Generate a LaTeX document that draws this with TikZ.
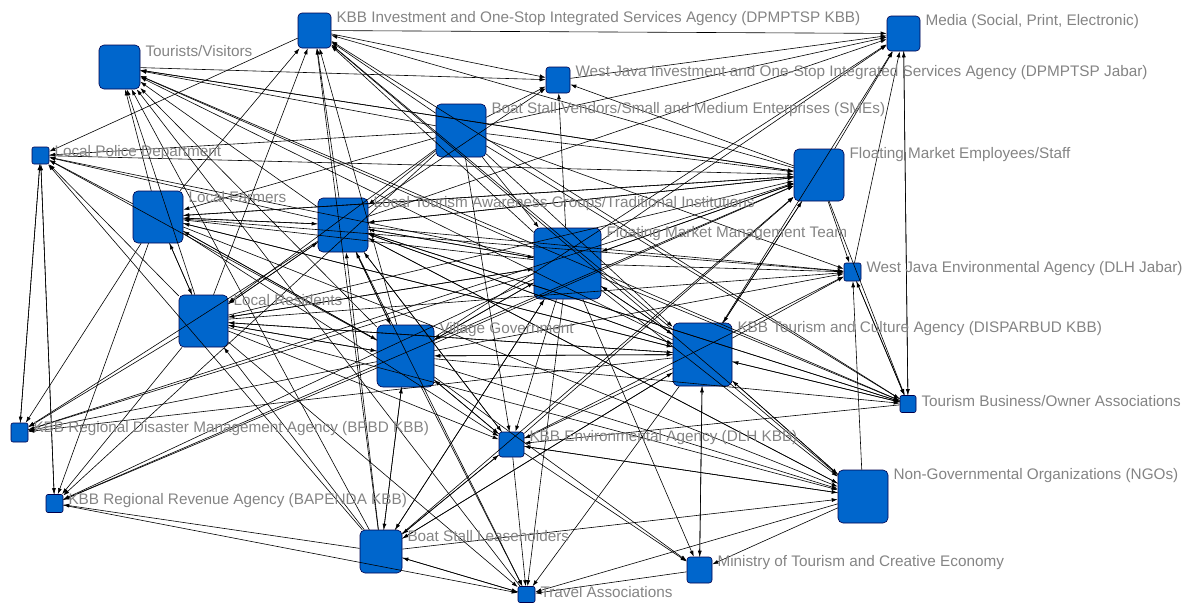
\documentclass[tikz,border=0pt]{standalone}
\usepackage{fontspec}
\setmainfont{Liberation Sans}
\usetikzlibrary{arrows.meta}

\definecolor{actorblue}{RGB}{0,102,204}
\definecolor{tagrey}{RGB}{132,132,132}

\tikzset{
  actor/.style={draw=black!70!blue, fill=actorblue, line width=0.6pt, rounded corners=#1, inner sep=0pt},
  actor/.default=4pt,
  tag/.style={anchor=west, text=tagrey, inner sep=0pt, font=\fontsize{15.3}{17}\selectfont},
  link/.style={line width=0.6pt, -{Latex[length=6pt,width=4pt]}},
}

\begin{document}
\begin{tikzpicture}[x=1pt, y=-1pt]
    \useasboundingbox (0,0) rectangle (1192,606);

    % actors
    \node[actor, minimum width=33, minimum height=35] (inv) at (314.5,30.5) {};
    \node[actor, minimum width=33, minimum height=35] (media) at (903.5,33.5) {};
    \node[actor=5pt, minimum width=41, minimum height=44] (tour) at (119.5,67) {};
    \node[actor=3pt, minimum width=24, minimum height=26] (wjinv) at (558,80) {};
    \node[actor=5pt, minimum width=50, minimum height=53] (vend) at (461,130.5) {};
    \node[actor=2pt, minimum width=17, minimum height=17] (police) at (40.5,155.5) {};
    \node[actor=5pt, minimum width=50, minimum height=52] (staff) at (819,175) {};
    \node[actor=5pt, minimum width=50, minimum height=52] (farm) at (158,217) {};
    \node[actor=5pt, minimum width=50, minimum height=54] (pokdar) at (343,225) {};
    \node[actor=6pt, minimum width=67, minimum height=71] (mgmt) at (567.5,263.5) {};
    \node[actor=2pt, minimum width=17, minimum height=18] (dlhj) at (852.5,272) {};
    \node[actor=5pt, minimum width=49, minimum height=52] (resid) at (203.5,321) {};
    \node[actor=6pt, minimum width=57, minimum height=62] (village) at (405.5,356) {};
    \node[actor=6pt, minimum width=59, minimum height=63] (dispar) at (702.5,354.5) {};
    \node[actor=2pt, minimum width=16, minimum height=17] (assoc) at (908,404) {};
    \node[actor=2pt, minimum width=17, minimum height=19] (bpbd) at (19.5,432.5) {};
    \node[actor=3pt, minimum width=25, minimum height=25] (dlhk) at (511.5,444.5) {};
    \node[actor=5pt, minimum width=50, minimum height=53] (ngo) at (863,496.5) {};
    \node[actor=2pt, minimum width=17, minimum height=18] (bapenda) at (54.5,503.5) {};
    \node[actor=5pt, minimum width=42, minimum height=43] (lease) at (381,551.5) {};
    \node[actor=3pt, minimum width=25, minimum height=26] (minis) at (699.5,570) {};
    \node[actor=2pt, minimum width=17, minimum height=16] (travel) at (526.5,594.5) {};

    % ties (source/target)
    \foreach \s/\t in {
        farm/tour, pokdar/tour, resid/tour, village/tour, mgmt/tour, vend/tour, staff/tour, dispar/tour, lease/tour, travel/tour, assoc/tour,
        vend/inv, pokdar/inv, village/inv, mgmt/inv, dispar/inv, staff/inv, farm/inv, resid/inv, lease/inv, ngo/inv, assoc/inv, inv/police,
        wjinv/media, vend/media, staff/media, mgmt/media, dispar/media, dlhj/media, assoc/media, pokdar/media, inv/media, village/media,
        vend/wjinv, inv/wjinv, pokdar/wjinv, tour/wjinv, mgmt/wjinv, staff/wjinv,
        vend/staff, farm/staff, pokdar/staff, mgmt/staff, resid/staff, village/staff, tour/staff, police/staff, dispar/staff, lease/staff, dlhk/staff, bpbd/staff, bapenda/staff,
        pokdar/farm, mgmt/farm, village/farm, resid/farm, vend/farm, staff/farm, dispar/farm,
        mgmt/pokdar, village/pokdar, resid/pokdar, farm/pokdar, vend/pokdar, staff/pokdar, dispar/pokdar, dlhk/pokdar, lease/pokdar, ngo/pokdar, assoc/pokdar,
        village/mgmt, dispar/mgmt, pokdar/mgmt, vend/mgmt, resid/mgmt, lease/mgmt, staff/mgmt,
        mgmt/dlhj, pokdar/dlhj, vend/dlhj, village/dlhj, dispar/dlhj, dlhk/dlhj, resid/dlhj, farm/dlhj, staff/dlhj, ngo/dlhj, assoc/dlhj,
        village/resid, pokdar/resid, mgmt/resid, dispar/resid, farm/resid, lease/resid, vend/resid,
        mgmt/village, pokdar/village, dispar/village, resid/village, lease/village, farm/village, dlhk/village,
        mgmt/dispar, village/dispar, pokdar/dispar, resid/dispar, vend/dispar, farm/dispar, staff/dispar, lease/dispar, assoc/dispar, ngo/dispar, minis/dispar,
        mgmt/assoc, dispar/assoc, dlhj/assoc, staff/assoc, media/assoc, village/assoc, pokdar/assoc, vend/assoc,
        police/bpbd, village/bpbd, pokdar/bpbd, mgmt/bpbd, farm/bpbd, resid/bpbd, dispar/bpbd,
        farm/police, resid/police, pokdar/police, village/police, mgmt/police, vend/police, bpbd/police, bapenda/police, lease/police,
        village/dlhk, mgmt/dlhk, pokdar/dlhk, resid/dlhk, farm/dlhk, lease/dlhk, dispar/dlhk, ngo/dlhk, vend/dlhk, assoc/dlhk,
        village/ngo, mgmt/ngo, pokdar/ngo, dispar/ngo, resid/ngo, dlhk/ngo, lease/ngo, farm/ngo,
        lease/bapenda, vend/bapenda, village/bapenda, mgmt/bapenda, police/bapenda, farm/bapenda, resid/bapenda,
        village/lease, mgmt/lease, dlhk/lease, dispar/lease, travel/lease,
        dlhk/minis, mgmt/minis, village/minis, dispar/minis, ngo/minis,
        lease/travel, village/travel, dlhk/travel, mgmt/travel, pokdar/travel, dispar/travel, resid/travel, bapenda/travel, ngo/travel, minis/travel}
        \draw[link] (\s) -- (\t);

    % labels
    \node[tag] (inv-t) at ([xshift=5pt, yshift=-6pt]inv.north east) {KBB Investment and One-Stop Integrated Services Agency (DPMPTSP KBB)};
    \node[tag] (media-t) at ([xshift=5pt, yshift=-6pt]media.north east) {Media (Social, Print, Electronic)};
    \node[tag] (tour-t) at ([xshift=5pt, yshift=-6pt]tour.north east) {Tourists/Visitors};
    \node[tag] (wjinv-t) at ([xshift=5pt, yshift=-6pt]wjinv.north east) {West Java Investment and One-Stop Integrated Services Agency (DPMPTSP Jabar)};
    \node[tag] (vend-t) at ([xshift=5pt, yshift=-6pt]vend.north east) {Boat Stall Vendors/Small and Medium Enterprises (SMEs)};
    \node[tag] (police-t) at ([xshift=5pt, yshift=-6pt]police.north east) {Local Police Department};
    \node[tag] (staff-t) at ([xshift=5pt, yshift=-6pt]staff.north east) {Floating Market Employees/Staff};
    \node[tag] (farm-t) at ([xshift=5pt, yshift=-6pt]farm.north east) {Local Farmers};
    \node[tag] (pokdar-t) at ([xshift=5pt, yshift=-6pt]pokdar.north east) {Local Tourism Awareness Groups/Traditional Institutions};
    \node[tag] (mgmt-t) at ([xshift=5pt, yshift=-6pt]mgmt.north east) {Floating Market Management Team};
    \node[tag] (dlhj-t) at ([xshift=5pt, yshift=-6pt]dlhj.north east) {West Java Environmental Agency (DLH Jabar)};
    \node[tag] (resid-t) at ([xshift=5pt, yshift=-5pt]resid.north east) {Local Residents};
    \node[tag] (village-t) at ([xshift=5pt, yshift=-5pt]village.north east) {Village Government};
    \node[tag] (dispar-t) at ([xshift=5pt, yshift=-6pt]dispar.north east) {KBB Tourism and Culture Agency (DISPARBUD KBB)};
    \node[tag] (assoc-t) at ([xshift=5pt, yshift=-6pt]assoc.north east) {Tourism Business/Owner Associations};
    \node[tag] (bpbd-t) at ([xshift=5pt, yshift=-6pt]bpbd.north east) {KBB Regional Disaster Management Agency (BPBD KBB)};
    \node[tag] (dlhk-t) at ([xshift=5pt, yshift=-6pt]dlhk.north east) {KBB Environmental Agency (DLH KBB)};
    \node[tag] (ngo-t) at ([xshift=5pt, yshift=-6pt]ngo.north east) {Non-Governmental Organizations (NGOs)};
    \node[tag] (bapenda-t) at ([xshift=5pt, yshift=-6pt]bapenda.north east) {KBB Regional Revenue Agency (BAPENDA KBB)};
    \node[tag] (lease-t) at ([xshift=5pt, yshift=-6pt]lease.north east) {Boat Stall Leaseholders};
    \node[tag] (minis-t) at ([xshift=5pt, yshift=-6pt]minis.north east) {Ministry of Tourism and Creative Economy};
    \node[tag] (travel-t) at ([xshift=5pt, yshift=-6pt]travel.north east) {Travel Associations};

\end{tikzpicture}
\end{document}
